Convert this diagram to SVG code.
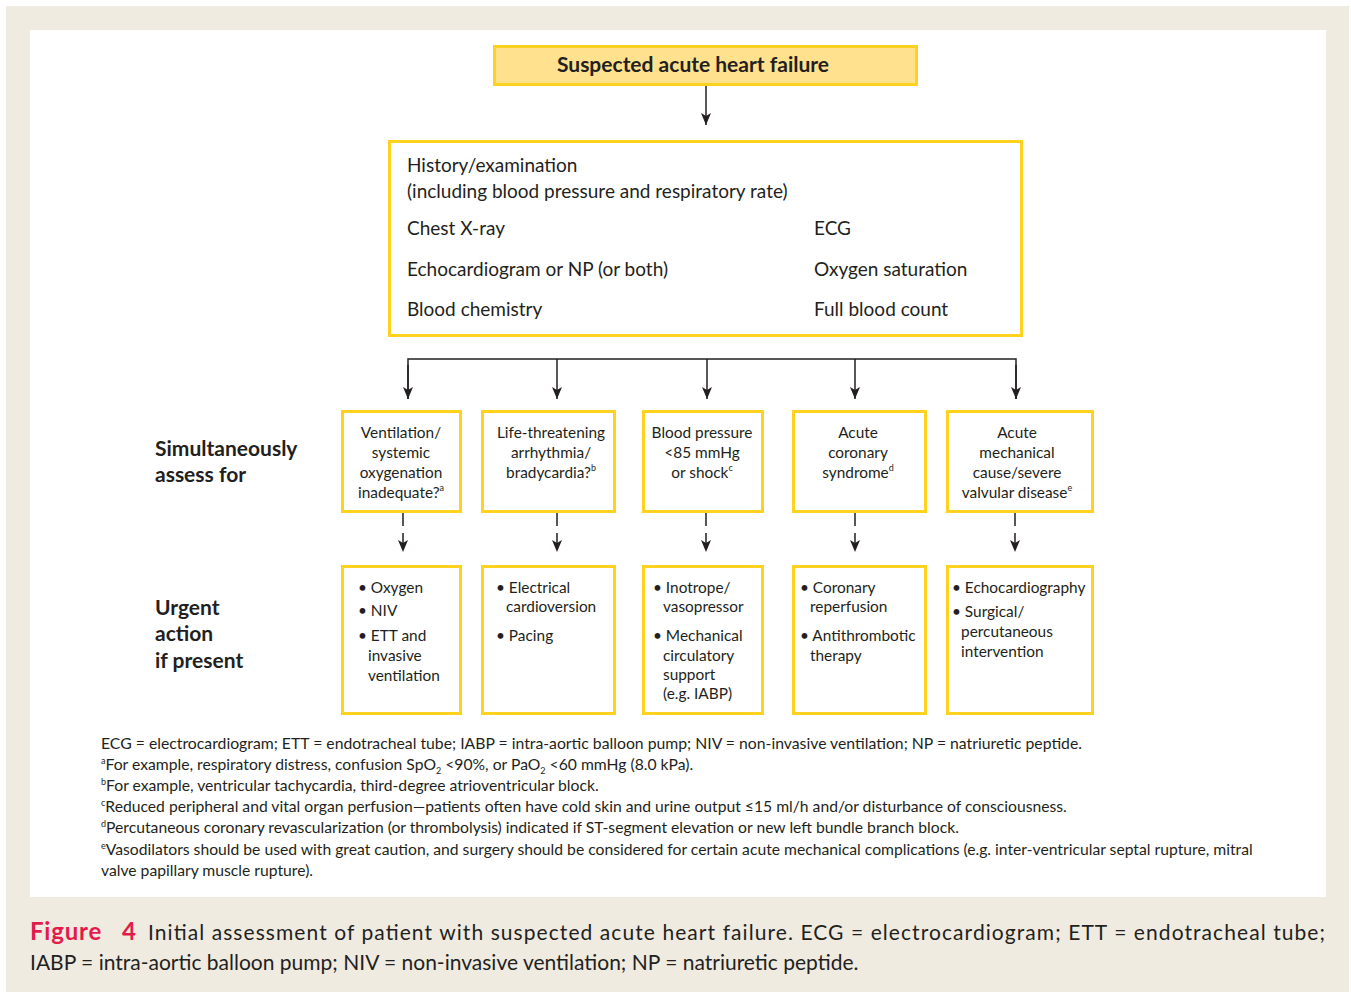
<svg xmlns="http://www.w3.org/2000/svg" width="1351" height="992" viewBox="0 0 1351 992">
<style>
.t{font-family:Lato,"Liberation Sans",sans-serif;fill:#231f20}
.box{fill:#fff;stroke:#ffd21f;stroke-width:3}
.main{font-size:19px}
.bx{font-size:15.4px}
.lab{font-size:21px;font-weight:bold}
.fn{font-size:15.7px}
.cap{font-size:21px}
.ln{stroke:#231f20;stroke-width:1.5;fill:none}
.ds{stroke:#231f20;stroke-width:1.5;fill:none;stroke-dasharray:13 7}
.sup{font-size:9px}
</style>
<defs>
<marker id="a2" markerWidth="10" markerHeight="12" refX="5" refY="12" orient="0" markerUnits="userSpaceOnUse" viewBox="0 0 10 12">
<path d="M0,0 L5,3 L10,0 L5,12 Z" fill="#231f20"/>
</marker>
</defs>
<rect x="0" y="0" width="1351" height="992" fill="#fff"/>
<rect x="6" y="6" width="1343" height="986" fill="#efebe0"/>
<rect x="30" y="30" width="1296" height="867" fill="#fff"/>

<g id="n-top">
<rect x="494.5" y="46.5" width="422" height="38" fill="#ffe18e" stroke="#ffd21f" stroke-width="3"/>
<text class="t" x="693" y="72" text-anchor="middle" font-size="21" font-weight="bold">Suspected acute heart failure</text>
</g>

<g id="n-history">
<rect class="box" x="389.5" y="141.5" width="632" height="194"/>
<text class="t main" x="407" y="172">History/examination</text>
<text class="t main" x="407" y="198">(including blood pressure and respiratory rate)</text>
<text class="t main" x="407" y="235">Chest X-ray</text>
<text class="t main" x="814" y="235">ECG</text>
<text class="t main" x="407" y="276">Echocardiogram or NP (or both)</text>
<text class="t main" x="814" y="276">Oxygen saturation</text>
<text class="t main" x="407" y="316">Blood chemistry</text>
<text class="t main" x="814" y="316">Full blood count</text>
</g>

<g id="labels">
<text class="t lab" x="155" y="456">Simultaneously</text>
<text class="t lab" x="155" y="482">assess for</text>
<text class="t lab" x="155" y="615">Urgent</text>
<text class="t lab" x="155" y="641">action</text>
<text class="t lab" x="155" y="668">if present</text>
</g>

<g id="n-a1">
<rect class="box" x="342.5" y="411.5" width="118" height="100"/>
<text class="t bx" text-anchor="middle"><tspan x="401" y="438">Ventilation/</tspan><tspan x="401" y="458">systemic</tspan><tspan x="401" y="478">oxygenation</tspan><tspan x="401" y="498">inadequate?<tspan class="sup" dy="-7">a</tspan></tspan></text>
</g>
<g id="n-a2">
<rect class="box" x="482.5" y="411.5" width="132" height="100"/>
<text class="t bx" text-anchor="middle"><tspan x="551" y="438">Life-threatening</tspan><tspan x="551" y="458">arrhythmia/</tspan><tspan x="551" y="478">bradycardia?<tspan class="sup" dy="-7">b</tspan></tspan></text>
</g>
<g id="n-a3">
<rect class="box" x="643.5" y="411.5" width="119" height="100"/>
<text class="t bx" text-anchor="middle"><tspan x="702" y="438">Blood pressure</tspan><tspan x="702" y="458">&lt;85 mmHg</tspan><tspan x="702" y="478">or shock<tspan class="sup" dy="-7">c</tspan></tspan></text>
</g>
<g id="n-a4">
<rect class="box" x="793.5" y="411.5" width="132" height="100"/>
<text class="t bx" text-anchor="middle"><tspan x="858" y="438">Acute</tspan><tspan x="858" y="458">coronary</tspan><tspan x="858" y="478">syndrome<tspan class="sup" dy="-7">d</tspan></tspan></text>
</g>
<g id="n-a5">
<rect class="box" x="947.5" y="411.5" width="145" height="100"/>
<text class="t bx" text-anchor="middle"><tspan x="1017" y="438">Acute</tspan><tspan x="1017" y="458">mechanical</tspan><tspan x="1017" y="478">cause/severe</tspan><tspan x="1017" y="498">valvular disease<tspan class="sup" dy="-7">e</tspan></tspan></text>
</g>

<g id="n-u1">
<rect class="box" x="342.5" y="566.5" width="118" height="147"/>
<text class="t bx"><tspan x="358" y="593">• Oxygen</tspan><tspan x="358" y="616">• NIV</tspan><tspan x="358" y="641">• ETT and</tspan><tspan x="368" y="661">invasive</tspan><tspan x="368" y="681">ventilation</tspan></text>
</g>
<g id="n-u2">
<rect class="box" x="482.5" y="566.5" width="132" height="147"/>
<text class="t bx"><tspan x="496" y="593">• Electrical</tspan><tspan x="506" y="612">cardioversion</tspan><tspan x="496" y="641">• Pacing</tspan></text>
</g>
<g id="n-u3">
<rect class="box" x="643.5" y="566.5" width="119" height="147"/>
<text class="t bx"><tspan x="653" y="593">• Inotrope/</tspan><tspan x="663" y="612">vasopressor</tspan><tspan x="653" y="641">• Mechanical</tspan><tspan x="663" y="661">circulatory</tspan><tspan x="663" y="680">support</tspan><tspan x="663" y="699">(e.g. IABP)</tspan></text>
</g>
<g id="n-u4">
<rect class="box" x="793.5" y="566.5" width="132" height="147"/>
<text class="t bx"><tspan x="800" y="593">• Coronary</tspan><tspan x="810" y="612">reperfusion</tspan><tspan x="800" y="641">• Antithrombotic</tspan><tspan x="810" y="661">therapy</tspan></text>
</g>
<g id="n-u5">
<rect class="box" x="947.5" y="566.5" width="145" height="147"/>
<text class="t bx"><tspan x="952" y="593">• Echocardiography</tspan><tspan x="952" y="617">• Surgical/</tspan><tspan x="961" y="637">percutaneous</tspan><tspan x="961" y="657">intervention</tspan></text>
</g>

<g id="connectors">
<line class="ln" x1="706" y1="86" x2="706" y2="125" marker-end="url(#a2)"/>
<polyline class="ln" points="408,399 408,359 1016,359 1016,399"/>
<line class="ln" x1="408" y1="365" x2="408" y2="399" marker-end="url(#a2)"/>
<line class="ln" x1="1016" y1="365" x2="1016" y2="399" marker-end="url(#a2)"/>
<line class="ln" x1="557" y1="359" x2="557" y2="399" marker-end="url(#a2)"/>
<line class="ln" x1="707" y1="359" x2="707" y2="399" marker-end="url(#a2)"/>
<line class="ln" x1="855" y1="359" x2="855" y2="399" marker-end="url(#a2)"/>
<line class="ds" x1="403" y1="513" x2="403" y2="552" marker-end="url(#a2)"/>
<line class="ds" x1="557" y1="513" x2="557" y2="552" marker-end="url(#a2)"/>
<line class="ds" x1="706" y1="513" x2="706" y2="552" marker-end="url(#a2)"/>
<line class="ds" x1="855" y1="513" x2="855" y2="552" marker-end="url(#a2)"/>
<line class="ds" x1="1015" y1="513" x2="1015" y2="552" marker-end="url(#a2)"/>
</g>

<g id="footnotes">
<text class="t fn" x="101" y="749" textLength="981" lengthAdjust="spacingAndGlyphs">ECG = electrocardiogram; ETT = endotracheal tube; IABP = intra-aortic balloon pump; NIV = non-invasive ventilation; NP = natriuretic peptide.</text>
<text class="t fn" x="101" y="770"><tspan class="sup" dy="-6">a</tspan><tspan dy="6">For example, respiratory distress, confusion SpO</tspan><tspan class="sup" dy="4">2</tspan><tspan dy="-4"> &lt;90%, or PaO</tspan><tspan class="sup" dy="4">2</tspan><tspan dy="-4"> &lt;60 mmHg (8.0 kPa).</tspan></text>
<text class="t fn" x="101" y="791"><tspan class="sup" dy="-6">b</tspan><tspan dy="6">For example, ventricular tachycardia, third-degree atrioventricular block.</tspan></text>
<text class="t fn" x="101" y="812"><tspan class="sup" dy="-6">c</tspan><tspan dy="6">Reduced peripheral and vital organ perfusion—patients often have cold skin and urine output ≤15 ml/h and/or disturbance of consciousness.</tspan></text>
<text class="t fn" x="101" y="833"><tspan class="sup" dy="-6">d</tspan><tspan dy="6">Percutaneous coronary revascularization (or thrombolysis) indicated if ST-segment elevation or new left bundle branch block.</tspan></text>
<text class="t fn" x="101" y="855"><tspan class="sup" dy="-6">e</tspan><tspan dy="6">Vasodilators should be used with great caution, and surgery should be considered for certain acute mechanical complications (e.g. inter-ventricular septal rupture, mitral</tspan></text>
<text class="t fn" x="101" y="876">valve papillary muscle rupture).</text>
</g>

<g id="caption">
<text class="t" x="30" y="940" font-size="24" font-weight="bold" fill="#e31b4b" style="fill:#e31b4b" letter-spacing="0.8">Figure</text>
<text class="t" x="122" y="940" font-size="24" font-weight="bold" style="fill:#e31b4b">4</text>
<text class="t cap" x="148" y="940" textLength="1177" lengthAdjust="spacing">Initial assessment of patient with suspected acute heart failure. ECG = electrocardiogram; ETT = endotracheal tube;</text>
<text class="t cap" x="30" y="970">IABP = intra-aortic balloon pump; NIV = non-invasive ventilation; NP = natriuretic peptide.</text>
</g>
</svg>
